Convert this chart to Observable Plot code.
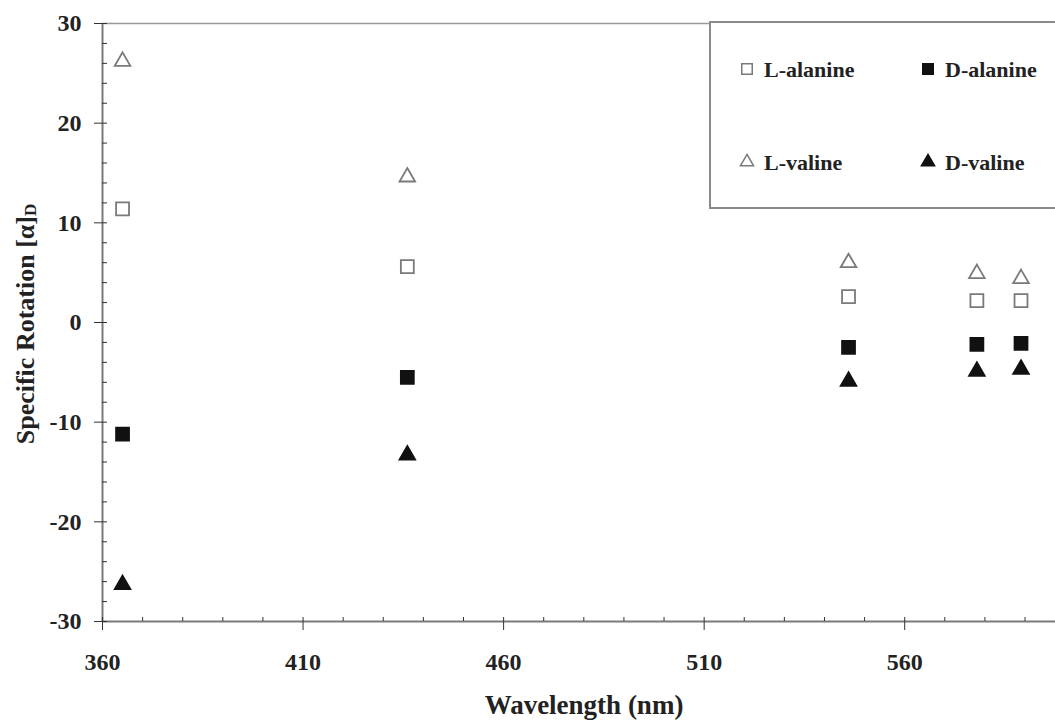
<!DOCTYPE html>
<html>
<head>
<meta charset="utf-8">
<script src="https://cdn.jsdelivr.net/npm/d3@7"></script>
<script src="https://cdn.jsdelivr.net/npm/@observablehq/plot@0.6"></script>
<style>
  html, body { margin: 0; padding: 0; background: #fff; }
  #chart { position: relative; width: 1055px; height: 725px; }
</style>
</head>
<body>
<div id="chart"></div>
<script>
// ---- data ----
const wavelengths = [365, 436, 546, 578, 589];
const lAlanine = [11.4, 5.6, 2.6, 2.2, 2.2];
const dAlanine = [-11.2, -5.5, -2.5, -2.2, -2.1];
const lValine = [26.2, 14.6, 6.0, 4.9, 4.4];
const dValine = [-26.3, -13.3, -5.9, -4.9, -4.7];
const seriesNames = ["L-alanine", "D-alanine", "L-valine", "D-valine"];
const xMajorTicks = [360, 410, 460, 510, 560];
const xMinorTicks = d3.range(360, 600, 10);
const yMajorTicks = [-30, -20, -10, 0, 10, 20, 30];
const yMinorTicks = d3.range(-30, 31, 2);

const rows = [];
wavelengths.forEach((w, i) => {
  rows.push({wl: w, v: lAlanine[i], s: "L-alanine"});
  rows.push({wl: w, v: dAlanine[i], s: "D-alanine"});
  rows.push({wl: w, v: lValine[i], s: "L-valine"});
  rows.push({wl: w, v: dValine[i], s: "D-valine"});
});
const isOpen = s => s.startsWith("L");
const sym = s => s.endsWith("alanine") ? "square" : "triangle";
const grey = "#7a7a7a";
const font = "'Liberation Serif', 'Times New Roman', serif";

const chart = Plot.plot({
  width: 1055,
  height: 725,
  marginLeft: 102,
  marginRight: 0,
  marginTop: 23,
  marginBottom: 104,
  x: {domain: [360, 597.6]},
  y: {domain: [-30, 30]},
  style: {fontFamily: font, fontWeight: "bold", fontSize: "24px", color: "#222", background: "#fff", overflow: "visible"},
  marks: [
    Plot.ruleY([30], {stroke: "#999", strokeWidth: 1.5}),
    Plot.ruleY([-30], {stroke: grey, strokeWidth: 2}),
    Plot.ruleX([360], {stroke: grey, strokeWidth: 2}),
    // minor (inner) ticks
    Plot.axisX({ticks: xMinorTicks, tickSize: -4, tickFormat: () => "", label: null, stroke: "#333"}),
    Plot.axisY({ticks: yMinorTicks, tickSize: -5, tickFormat: () => "", label: null, stroke: "#333"}),
    // major ticks with labels
    Plot.axisX({ticks: xMajorTicks, tickSize: 9, tickPadding: 22, tickFormat: d => String(d), label: null, stroke: "#333", fontSize: 24}),
    Plot.axisY({ticks: yMajorTicks, tickSize: 8, tickPadding: 13, tickFormat: d => String(d), label: null, stroke: "#333", fontSize: 24}),
    // data
    Plot.dot(rows.filter(d => sym(d.s) === "square"), {
      x: "wl", y: "v", symbol: "square", r: 7.3,
      fill: d => isOpen(d.s) ? "white" : "#111",
      stroke: d => isOpen(d.s) ? grey : "#111",
      strokeWidth: 1.8
    }),
    Plot.dot(rows.filter(d => sym(d.s) === "triangle"), {
      x: "wl", y: "v", symbol: "triangle", r: 5.8,
      fill: d => isOpen(d.s) ? "white" : "#111",
      stroke: d => isOpen(d.s) ? grey : "#111",
      strokeWidth: 1.8
    })
  ]
});
document.getElementById("chart").appendChild(chart);

const svg = d3.select(chart);
// x axis title
svg.append("text")
  .attr("x", 584).attr("y", 714)
  .attr("text-anchor", "middle")
  .style("font-family", font).style("font-weight", "bold").style("font-size", "27px").attr("fill", "#222")
  .text("Wavelength (nm)");
// y axis title
const yt = svg.append("text")
  .attr("transform", "translate(34,324) rotate(-90)")
  .attr("text-anchor", "middle")
  .style("font-family", font).style("font-weight", "bold").style("font-size", "26px").attr("fill", "#222");
yt.append("tspan").text("Specific Rotation [α]");
yt.append("tspan").attr("dy", "0.1em").style("font-size", "17px").text("D");

// legend
const lg = svg.append("g");
lg.append("rect").attr("x", 710).attr("y", 22).attr("width", 400).attr("height", 186)
  .attr("fill", "white").attr("stroke", "#8a8a8a").attr("stroke-width", 2);
const legendItems = [
  {s: "L-alanine", cx: 747, cy: 69},
  {s: "D-alanine", cx: 928, cy: 69},
  {s: "L-valine", cx: 747, cy: 162},
  {s: "D-valine", cx: 928, cy: 162}
];
legendItems.forEach(it => {
  const type = sym(it.s) === "square" ? d3.symbolSquare : d3.symbolTriangle;
  lg.append("path")
    .attr("d", d3.symbol(type, sym(it.s) === "square" ? 110 : 75)())
    .attr("transform", `translate(${it.cx},${it.cy})`)
    .attr("fill", isOpen(it.s) ? "white" : "#111")
    .attr("stroke", isOpen(it.s) ? grey : "#111")
    .attr("stroke-width", 1.5);
  lg.append("text")
    .attr("x", it.cx + 17).attr("y", it.cy + 8)
    .attr("text-anchor", "start")
    .style("font-family", font).style("font-weight", "bold").style("font-size", "22px").attr("fill", "#222")
    .text(it.s);
});
</script>
</body>
</html>
